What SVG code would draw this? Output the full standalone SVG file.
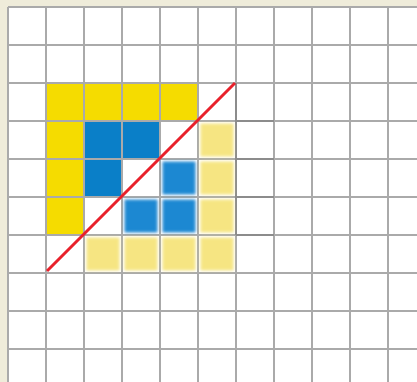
<svg xmlns="http://www.w3.org/2000/svg" width="417" height="382" viewBox="0 0 417 382">
<defs>
<filter id="fuzz" x="-20%" y="-20%" width="140%" height="140%">
<feGaussianBlur stdDeviation="1.6"/>
</filter>
<style>
.y{fill:#f5dc00}
.b{fill:#0a7fc8}
.fy{fill:#f6e582;filter:url(#fuzz)}
.fb{fill:#1f88d2;filter:url(#fuzz)}
.g{stroke:#aaaaaa;stroke-width:2}
.gd{stroke:#8c8c8c;stroke-width:2}
</style>
</defs>
<rect width="417" height="382" fill="#efecda"/>
<rect x="8" y="7" width="409" height="375" fill="#ffffff"/>
<g id="solid">
<rect class="y" x="46" y="83" width="38" height="38"/>
<rect class="y" x="84" y="83" width="38" height="38"/>
<rect class="y" x="122" y="83" width="38" height="38"/>
<rect class="y" x="160" y="83" width="38" height="38"/>
<rect class="y" x="46" y="121" width="38" height="38"/>
<rect class="y" x="46" y="159" width="38" height="38"/>
<rect class="y" x="46" y="197" width="38" height="38"/>
<rect class="b" x="84" y="121" width="38" height="38"/>
<rect class="b" x="122" y="121" width="38" height="38"/>
<rect class="b" x="84" y="159" width="38" height="38"/>
</g>
<g id="grid">
<path class="g" d="M8 7V382M46 7V382M84 7V382M122 7V382M160 7V382M198 7V382M236 7V382M274 7V382M312 7V382M350 7V382M388 7V382"/>
<path class="g" d="M8 7H417M8 45H417M8 83H417M8 121H417M8 159H417M8 197H417M8 235H417M8 273H417M8 311H417M8 349H417"/>
<path class="gd" d="M236 83V235M236 121H274M236 159H274M236 197H274M236 235H274"/>
</g>
<g id="faded">
<rect class="fy" x="200.5" y="123.5" width="33" height="33"/>
<rect class="fy" x="200.5" y="161.5" width="33" height="33"/>
<rect class="fy" x="200.5" y="199.5" width="33" height="33"/>
<rect class="fy" x="200.5" y="237.5" width="33" height="33"/>
<rect class="fy" x="86.5" y="237.5" width="33" height="33"/>
<rect class="fy" x="124.5" y="237.5" width="33" height="33"/>
<rect class="fy" x="162.5" y="237.5" width="33" height="33"/>
<rect class="fb" x="162.5" y="161.5" width="33" height="33"/>
<rect class="fb" x="124.5" y="199.5" width="33" height="33"/>
<rect class="fb" x="162.5" y="199.5" width="33" height="33"/>
</g>
<g id="connectors">
<line x1="47" y1="271" x2="235" y2="83" stroke="#e8212b" stroke-width="3"/>
</g>
</svg>
